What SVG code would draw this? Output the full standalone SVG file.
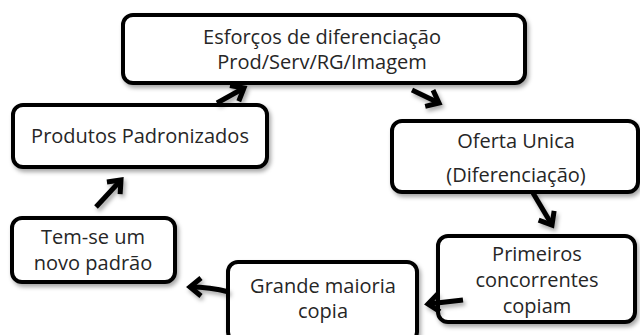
<svg xmlns="http://www.w3.org/2000/svg" width="640" height="335" viewBox="0 0 640 335">
<defs>
<filter id="sh" filterUnits="userSpaceOnUse" x="0" y="0" width="640" height="335">
<feDropShadow dx="2" dy="3" stdDeviation="2" flood-color="#000" flood-opacity="0.35"/>
</filter>
<marker id="ah" markerUnits="userSpaceOnUse" markerWidth="30" markerHeight="30" refX="0" refY="0" viewBox="-15 -15 30 30" orient="auto" overflow="visible">
<path d="M -11 -9 L 0 0 L -11 9" fill="none" stroke="#000" stroke-width="5" stroke-linejoin="miter" stroke-linecap="butt"/>
</marker>
<style>
.box{fill:#fff;stroke:#000;stroke-width:4;filter:url(#sh)}
.t{font-family:"Open Sans","Liberation Sans",Arial,sans-serif;font-size:20px;fill:#262626;text-anchor:middle}
.c{fill:none;stroke:#000;stroke-width:5;marker-end:url(#ah);filter:url(#sh)}
</style>
</defs>
<g id="n1">
<rect class="box" x="123" y="15" width="402" height="68" rx="10"/>
<text class="t" x="322" y="44">Esforços de diferenciação</text>
<text class="t" x="322" y="69">Prod/Serv/RG/Imagem</text>
</g>
<g id="n2">
<rect class="box" x="392" y="121" width="246" height="71" rx="10"/>
<text class="t" x="516" y="148">Oferta Unica</text>
<text class="t" x="516" y="182">(Diferenciação)</text>
</g>
<g id="n3">
<rect class="box" x="438" y="236" width="197" height="86" rx="10"/>
<text class="t" x="537" y="261">Primeiros</text>
<text class="t" x="537" y="287">concorrentes</text>
<text class="t" x="537" y="313">copiam</text>
</g>
<g id="n4">
<rect class="box" x="228" y="262" width="189" height="80" rx="10"/>
<text class="t" x="323" y="293">Grande maioria</text>
<text class="t" x="323" y="318">copia</text>
</g>
<g id="n5">
<rect class="box" x="12" y="218" width="163" height="64" rx="10"/>
<text class="t" x="93" y="244">Tem-se um</text>
<text class="t" x="93" y="270">novo padrão</text>
</g>
<g id="n6">
<rect class="box" x="13" y="105" width="254" height="62" rx="10"/>
<text class="t" x="140" y="143">Produtos Padronizados</text>
</g>
<g id="connectors">
<path class="c" d="M 217 103 L 244 88"/>
<path class="c" d="M 412 90 L 439 103"/>
<path class="c" d="M 533 193 L 552 225"/>
<path class="c" d="M 463 300 L 428 304"/>
<path class="c" d="M 229 292 Q 210 287 190 287"/>
<path class="c" d="M 96 207 L 121 180"/>
</g>
</svg>
